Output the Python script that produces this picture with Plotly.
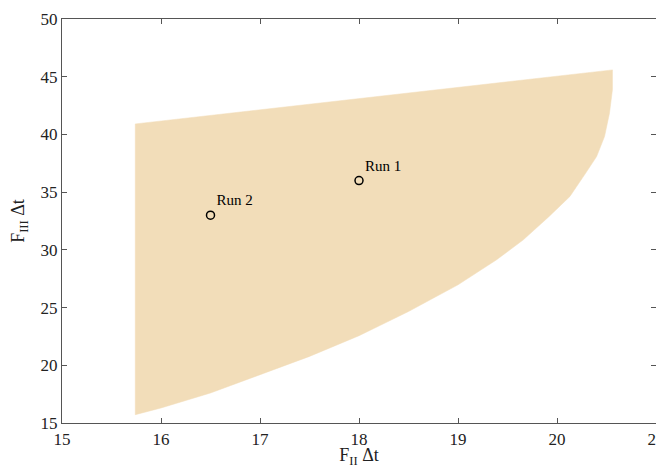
import plotly.graph_objects as go

# Feasible region boundary
top_x = [15.74, 20.56]
top_y = [40.91, 45.59]
right_x = [20.56, 20.56, 20.53, 20.48, 20.40, 20.29, 20.13, 19.92, 19.66, 19.39, 19.12,
           19.0, 18.5, 18.0, 17.5, 17.0, 16.5, 16.0, 15.74]
right_y = [45.59, 43.86, 41.84, 39.81, 38.08, 36.65, 34.62, 32.89, 30.87, 29.14, 27.69,
           26.97, 24.66, 22.56, 20.77, 19.18, 17.6, 16.3, 15.72]

# Runs
run_names = ["Run 1", "Run 2"]
run_x = [18.0, 16.5]
run_y = [36.0, 33.0]

x_ticks = [15, 16, 17, 18, 19, 20, 21]
y_ticks = [15, 20, 25, 30, 35, 40, 45, 50]

poly_x = top_x + right_x + [top_x[0]]
poly_y = top_y + right_y + [top_y[0]]

fill_color = "#F2DDB9"
font_family = "Liberation Serif, Times New Roman, serif"

fig = go.Figure()
fig.add_trace(go.Scatter(
    x=poly_x, y=poly_y, mode="lines", fill="toself",
    fillcolor=fill_color, line=dict(color=fill_color, width=0.5),
    hoverinfo="skip", showlegend=False,
))
fig.add_trace(go.Scatter(
    x=run_x, y=run_y, mode="markers+text", text=run_names,
    textposition="top right",
    textfont=dict(family=font_family, size=15, color="black"),
    marker=dict(symbol="circle-open", size=8, color="black", line=dict(width=1.5)),
    showlegend=False,
))

axis_common = dict(
    showgrid=False, zeroline=False, showline=True, linecolor="#555555", linewidth=1.2,
    mirror="ticks", ticks="inside", ticklen=5, tickcolor="#555555", automargin=False,
    ticklabeloverflow="allow",
    tickfont=dict(family=font_family, size=17, color="#222222"),
)
fig.update_xaxes(range=[15, 21], tickvals=x_ticks,
                 title=dict(text="F<sub>II</sub> Δt", font=dict(family=font_family, size=18, color="#222222"), standoff=2),
                 **axis_common)
fig.update_yaxes(range=[15, 50], tickvals=y_ticks,
                 title=dict(text="F<sub>III</sub> Δt", font=dict(family=font_family, size=18, color="#222222"), standoff=13),
                 **axis_common)
fig.update_layout(
    width=656, height=460,
    margin=dict(l=54, r=8, t=11, b=45),
    plot_bgcolor="white", paper_bgcolor="white",
)
fig.write_html("out.html")
